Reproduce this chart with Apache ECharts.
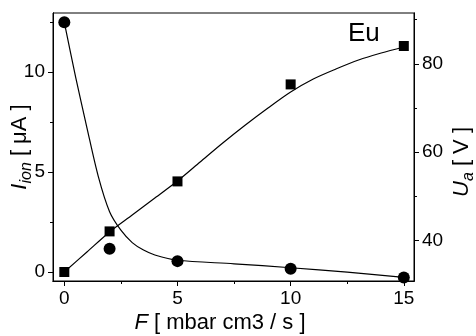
<!DOCTYPE html>
<html>
<head>
<meta charset="utf-8">
<script src="https://cdn.jsdelivr.net/npm/echarts@6/dist/echarts.min.js"></script>
<style>
  html, body { margin: 0; padding: 0; background: #fff; }
  #chart { width: 476px; height: 336px; }
</style>
</head>
<body>
<div id="chart"></div>
<script>
  // measured points
  const flow = [0, 2, 5, 10, 15];
  const ionCurrent = [0, 2.03, 4.53, 9.38, 11.3];       // squares, left axis
  const anodeVoltage = [89.4, 38.1, 35.3, 33.6, 31.6];  // circles, right axis

  // fitted curves
  const ionFitX = [0, 1, 2, 3, 4, 5, 6, 7, 8, 9, 10, 11, 12, 13, 14, 15];
  const ionFitY = [0, 1.0, 2.0, 2.85, 3.7, 4.55, 5.5, 6.45, 7.35, 8.2, 9.0, 9.65, 10.15, 10.6, 10.95, 11.25];
  const voltFitX = [0, 0.5, 1, 1.5, 2, 2.5, 3, 3.5, 4, 5, 7.5, 10, 12.5, 15];
  const voltFitY = [89.4, 77, 65.5, 54.5, 46.5, 42.3, 39.5, 37.8, 36.7, 35.5, 34.7, 33.8, 32.8, 31.6];

  // ticks
  const xMajor = [0, 5, 10, 15];
  const xMinor = [2.5, 7.5, 12.5];
  const leftMajor = [0, 5, 10];
  const leftMinor = [2.5, 7.5, 12.5];
  const rightMajor = [40, 60, 80];
  const rightMinor = [50, 70, 90];

  const font = 'Liberation Sans';
  const black = '#000';

  const nameRich = {
    it: { fontFamily: font, fontSize: 22, fontStyle: 'italic', color: black, lineHeight: 30 },
    sub: { fontFamily: font, fontSize: 16, fontStyle: 'italic', color: black, lineHeight: 17, verticalAlign: 'bottom' },
    n: { fontFamily: font, fontSize: 22, color: black, lineHeight: 30 }
  };

  function pairs(xs, ys) {
    return xs.map((x, i) => [x, ys[i]]);
  }

  function xAxisOf(ticks, len, labels) {
    return {
      type: 'value', min: -0.5, max: 15.45, position: 'bottom',
      axisLine: { show: true, onZero: false, lineStyle: { color: black, width: 1 } },
      axisTick: { show: true, customValues: ticks, length: len, lineStyle: { color: black } },
      axisLabel: labels ? { customValues: ticks, color: black, fontFamily: font, fontSize: 19, margin: 8 } : { show: false },
      splitLine: { show: false }
    };
  }

  function yAxisOf(pos, min, max, ticks, len, labels) {
    return {
      type: 'value', min: min, max: max, position: pos,
      axisLine: { show: true, onZero: false, lineStyle: { color: black, width: 1 } },
      axisTick: { show: true, customValues: ticks, length: len, lineStyle: { color: black } },
      axisLabel: labels ? { customValues: ticks, color: black, fontFamily: font, fontSize: 19, margin: 8 } : { show: false },
      splitLine: { show: false }
    };
  }

  const chart = echarts.init(document.getElementById('chart'));

  const xMain = xAxisOf(xMajor, 5, true);
  xMain.name = '{it|F}{n| [ mbar cm3 / s ]}';
  xMain.nameLocation = 'middle';
  xMain.nameGap = 27;
  xMain.nameMoveOverlap = false;
  xMain.nameTextStyle = { rich: nameRich, padding: [0, 27, 0, 0] };

  const yLeft = yAxisOf('left', -0.45, 12.95, leftMajor, 5, true);
  yLeft.name = '{it|I}{sub|ion}{n| [ \u03bcA ]}';
  yLeft.nameLocation = 'middle';
  yLeft.nameGap = 18;
  yLeft.nameMoveOverlap = false;
  yLeft.nameTextStyle = { rich: nameRich };

  const yRight = yAxisOf('right', 30.8, 91.5, rightMajor, 5, true);
  yRight.name = '{it|U}{sub|a}{n| [ V ]}';
  yRight.nameLocation = 'middle';
  yRight.nameGap = 33;
  yRight.nameMoveOverlap = false;
  yRight.nameTextStyle = { rich: nameRich, padding: [0, 30, 0, 0] };

  chart.setOption({
    animation: false,
    backgroundColor: '#fff',
    grid: {
      left: 53, right: 62, top: 13, bottom: 55,
      containLabel: false, outerBoundsMode: 'none',
      show: true, borderColor: black, borderWidth: 1
    },
    xAxis: [xMain, xAxisOf(xMinor, 3, false)],
    yAxis: [
      yLeft,
      yRight,
      yAxisOf('left', -0.45, 12.95, leftMinor, 3, false),
      yAxisOf('right', 30.8, 91.5, rightMinor, 3, false)
    ],
    graphic: [{
      type: 'text', left: 348, top: 21,
      style: { text: 'Eu', fill: black, font: '26px "Liberation Sans"' }
    }],
    series: [
      {
        type: 'line', xAxisIndex: 0, yAxisIndex: 0, data: pairs(ionFitX, ionFitY),
        smooth: 0.3, showSymbol: false, silent: true,
        lineStyle: { color: black, width: 1.2 }
      },
      {
        type: 'line', xAxisIndex: 0, yAxisIndex: 1, data: pairs(voltFitX, voltFitY),
        smooth: 0.3, showSymbol: false, silent: true,
        lineStyle: { color: black, width: 1.2 }
      },
      {
        type: 'scatter', xAxisIndex: 0, yAxisIndex: 0, data: pairs(flow, ionCurrent),
        symbol: 'rect', symbolSize: 10, itemStyle: { color: black, opacity: 1 }, z: 5
      },
      {
        type: 'scatter', xAxisIndex: 0, yAxisIndex: 1, data: pairs(flow, anodeVoltage),
        symbol: 'circle', symbolSize: 12, itemStyle: { color: black, opacity: 1 }, z: 5
      }
    ]
  });
</script>
</body>
</html>
